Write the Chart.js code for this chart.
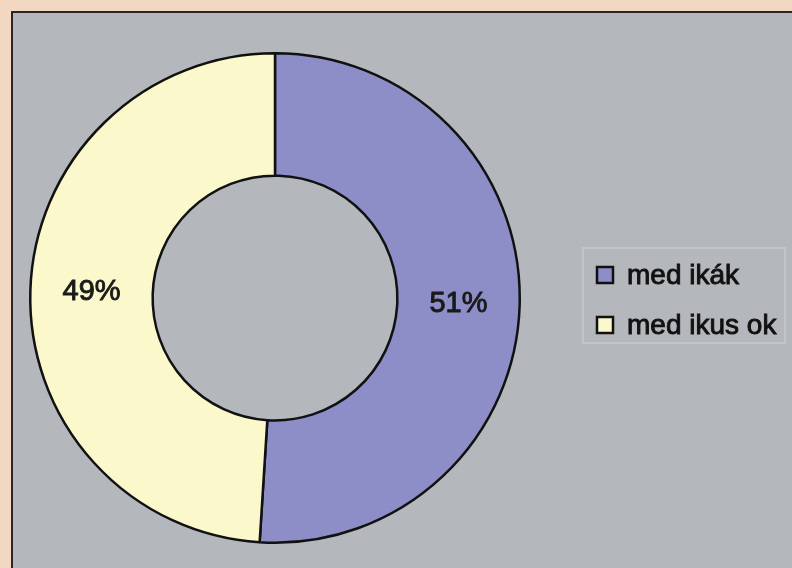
<!DOCTYPE html>
<html>
<head>
    <title>medikák</title>
    <meta charset="utf-8">
    <script src="https://cdn.jsdelivr.net/npm/chart.js"></script>
    <style>
        body { margin: 0; background: #f2d8c0; width: 792px; height: 568px; overflow: hidden; }
        #frame { position: absolute; left: 11px; top: 11px; width: 779px; height: 555px;
                 background: #b4b7bb; border-left: 2px solid #2a2522; border-top: 2px solid #2a2522; }
        #chart { position: absolute; left: 0; top: 0; }
    </style>
</head>
<body>
    <div id="frame">
        <canvas id="chart" width="779" height="555"></canvas>
    </div>

    <script>
        const labels = ['med ikák', 'med ikus ok'];
        const values = [51, 49];
        const colors = ['#8d8dc8', '#fbf8cc'];

        // text a little heavier, the original is thick and blurry
        function heavyText(ctx, txt, x, y) {
            ctx.fillText(txt, x, y);
            ctx.strokeText(txt, x, y);
        }

        // percent labels in the middle of each ring slice
        const sliceLabels = {
            id: 'sliceLabels',
            afterDatasetsDraw(chart) {
                const ctx = chart.ctx;
                const meta = chart.getDatasetMeta(0);
                const total = values.reduce((a, b) => a + b, 0);
                ctx.save();
                ctx.font = '29px "Liberation Sans", Arial, sans-serif';
                ctx.fillStyle = '#1a1a1a';
                ctx.strokeStyle = '#1a1a1a';
                ctx.lineWidth = 0.9;
                ctx.textAlign = 'center';
                ctx.textBaseline = 'middle';
                meta.data.forEach((arc, i) => {
                    const p = arc.tooltipPosition();
                    heavyText(ctx, Math.round(values[i] / total * 100) + '%', p.x, p.y);
                });
                ctx.restore();
            }
        };

        // boxed legend on the right, like the original
        const boxLegend = {
            id: 'boxLegend',
            afterDraw(chart) {
                const ctx = chart.ctx;
                const x0 = 570, y0 = 235, w = 202, h = 95;
                ctx.save();
                ctx.strokeStyle = '#c3c6c9';
                ctx.lineWidth = 2;
                ctx.strokeRect(x0, y0, w, h);
                ctx.font = '28px "Liberation Sans", Arial, sans-serif';
                ctx.textBaseline = 'middle';
                labels.forEach((lab, i) => {
                    const cy = y0 + 27 + i * 50;
                    ctx.fillStyle = colors[i];
                    ctx.fillRect(x0 + 14, cy - 8, 16, 16);
                    ctx.strokeStyle = '#111';
                    ctx.lineWidth = 2.5;
                    ctx.strokeRect(x0 + 14, cy - 8, 16, 16);
                    ctx.fillStyle = '#111';
                    ctx.lineWidth = 0.9;
                    heavyText(ctx, lab, x0 + 44, cy + 1);
                });
                ctx.restore();
            }
        };

        new Chart(document.getElementById('chart'), {
            type: 'doughnut',
            data: {
                labels: labels,
                datasets: [{
                    data: values,
                    backgroundColor: colors,
                    borderColor: '#111',
                    borderWidth: 2.5
                }]
            },
            options: {
                responsive: false,
                animation: false,
                cutout: '50%',
                layout: { padding: { left: 16, right: 271, top: 39, bottom: 24 } },
                plugins: {
                    legend: { display: false },
                    tooltip: { enabled: false }
                }
            },
            plugins: [sliceLabels, boxLegend]
        });
    </script>
</body>
</html>
